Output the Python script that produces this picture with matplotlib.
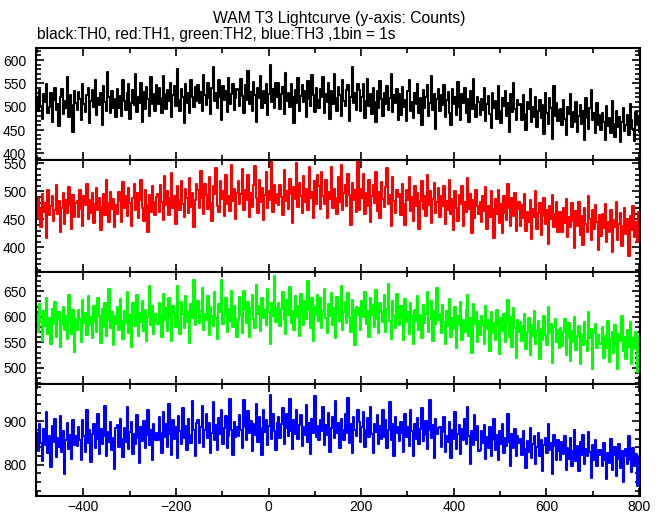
import numpy as np
import matplotlib
matplotlib.use("Agg")
from matplotlib import pyplot as plt
from matplotlib.ticker import MultipleLocator

plt.rcParams["font.family"] = ["Liberation Sans", "DejaVu Sans"]

t_start, t_bin = -500, 3

th0 = [518, 491, 536, 502, 474, 527, 511, 549, 486, 499, 530, 468, 515, 541, 493, 507, 458, 522, 539, 484, 512, 497, 563, 479, 526, 503, 445, 533, 508,
       494, 531, 517, 472, 548, 505, 488, 526, 541, 466, 513, 537, 499, 557, 483, 519, 503, 529, 461, 544, 510, 491, 575, 521, 486, 534, 498, 516, 479,
       539, 497, 524, 481, 558, 512, 493, 529, 548, 474, 508, 535, 503, 571, 488, 521, 509, 552, 467, 531, 496, 543, 517, 480, 563, 506, 527, 490, 546,
       505, 541, 519, 486, 565, 528, 496, 537, 512, 552, 479, 526, 545, 501, 580, 515, 491, 538, 521, 466, 549, 508, 530, 487, 558, 520, 499, 543, 513,
       546, 509, 532, 492, 569, 525, 503, 551, 518, 484, 540, 585, 512, 529, 497, 557, 521, 472, 544, 515, 533, 488, 562, 506, 527, 549, 494, 518, 538,
       536, 501, 560, 523, 487, 546, 514, 577, 506, 531, 492, 554, 525, 468, 541, 518, 566, 497, 533, 509, 548, 482, 527, 590, 511, 539, 498, 552, 520,
       551, 495, 528, 543, 484, 572, 513, 530, 500, 549, 521, 465, 537, 508, 562, 490, 524, 546, 511, 534, 479, 556, 517, 502, 568, 526, 489, 541, 515,
       497, 539, 520, 563, 486, 528, 511, 551, 474, 534, 505, 570, 518, 492, 543, 526, 481, 557, 513, 501, 536, 547, 469, 522, 585, 509, 530, 494, 548,
       535, 490, 521, 549, 476, 513, 560, 502, 527, 485, 541, 511, 467, 533, 497, 555, 516, 481, 529, 505, 544, 493, 519, 571, 488, 526, 508, 538, 472,
       527, 483, 542, 500, 515, 469, 533, 558, 491, 511, 476, 530, 505, 549, 487, 518, 462, 537, 497, 522, 546, 480, 509, 566, 494, 528, 453, 516, 539,
       492, 525, 503, 547, 478, 514, 531, 487, 461, 538, 506, 520, 482, 553, 499, 472, 527, 509, 541, 486, 517, 467, 534, 495, 560, 503, 479, 522, 511,
       482, 516, 494, 541, 470, 507, 523, 485, 455, 530, 498, 512, 474, 545, 491, 466, 519, 501, 534, 480, 509, 447, 527, 488, 552, 496, 471, 515, 503,
       507, 472, 526, 484, 450, 511, 495, 538, 468, 500, 479, 521, 457, 492, 515, 475, 503, 441, 530, 486, 463, 519, 497, 432, 545, 481, 509, 470, 494,
       496, 461, 515, 473, 439, 500, 484, 527, 457, 489, 468, 510, 446, 481, 504, 464, 492, 429, 519, 475, 453, 498, 536, 471, 487, 443, 508, 462, 482,
       450, 487, 468, 429, 501, 459, 476, 443, 513, 464, 435, 490, 456, 479, 424, 468, 497, 448, 461, 483, 440, 506, 471, 452, 427, 489, 463, 478, 445]

th1 = [452, 489, 471, 436, 495, 463, 480, 417, 502, 458, 474, 491, 447, 466, 512, 459, 483, 428, 470, 497, 441, 485, 462, 508, 476, 433, 493, 455, 479,
       483, 455, 503, 468, 439, 492, 476, 514, 451, 485, 462, 498, 443, 478, 507, 466, 489, 431, 472, 495, 458, 521, 480, 446, 499, 469, 487, 437, 475,
       460, 499, 483, 445, 517, 471, 492, 456, 506, 479, 438, 488, 513, 467, 497, 452, 484, 521, 470, 447, 502, 476, 428, 494, 463, 510, 481, 458, 490,
       496, 463, 512, 482, 449, 527, 475, 501, 458, 489, 533, 470, 492, 441, 509, 484, 466, 518, 477, 454, 505, 488, 461, 524, 472, 497, 436, 485, 513,
       502, 471, 536, 488, 459, 514, 493, 468, 526, 480, 447, 509, 495, 541, 474, 463, 519, 486, 500, 456, 530, 478, 492, 465, 547, 483, 505, 451, 497,
       518, 477, 495, 540, 466, 503, 484, 529, 455, 497, 472, 511, 546, 488, 462, 520, 481, 506, 449, 493, 534, 470, 501, 485, 557, 463, 512, 479, 496,
       475, 512, 490, 458, 538, 483, 501, 469, 523, 496, 444, 508, 487, 551, 473, 515, 492, 461, 527, 482, 505, 466, 543, 489, 499, 452, 518, 477, 530,
       509, 468, 534, 491, 477, 520, 452, 499, 486, 543, 470, 504, 489, 459, 525, 481, 548, 466, 497, 512, 474, 531, 493, 440, 515, 484, 502, 463, 555,
       467, 505, 488, 531, 459, 497, 474, 520, 446, 492, 512, 480, 535, 465, 499, 453, 517, 486, 472, 508, 541, 478, 494, 438, 526, 483, 461, 503, 490,
       496, 458, 513, 477, 440, 502, 485, 526, 465, 490, 448, 509, 474, 497, 433, 483, 518, 469, 492, 456, 530, 476, 501, 443, 487, 515, 462, 481, 506,
       455, 492, 474, 509, 441, 483, 466, 520, 459, 487, 432, 501, 470, 448, 493, 477, 510, 439, 481, 463, 524, 468, 496, 425, 485, 452, 503, 474, 460,
       482, 446, 491, 465, 508, 433, 474, 455, 500, 469, 417, 486, 460, 503, 444, 477, 426, 492, 462, 449, 514, 471, 438, 488, 456, 497, 430, 468, 481,
       438, 476, 453, 495, 429, 464, 446, 485, 415, 468, 454, 500, 433, 461, 479, 422, 456, 488, 442, 467, 407, 474, 450, 493, 436, 459, 481, 427, 463,
       463, 427, 471, 444, 486, 418, 455, 436, 479, 447, 399, 465, 439, 482, 423, 457, 405, 470, 441, 428, 492, 451, 414, 466, 433, 475, 446, 396, 458,
       421, 459, 434, 477, 410, 445, 428, 466, 391, 449, 436, 481, 414, 442, 461, 402, 438, 470, 424, 451, 385, 457, 431, 474, 418, 446, 409, 463, 429]

th2 = [605, 571, 624, 590, 553, 612, 582, 637, 566, 598, 547, 615, 586, 629, 560, 594, 609, 541, 583, 620, 575, 601, 556, 642, 589, 567, 613, 531, 596,
       574, 613, 596, 551, 632, 588, 607, 565, 641, 583, 599, 558, 622, 590, 571, 636, 602, 548, 615, 580, 627, 563, 594, 655, 578, 610, 545, 601, 586,
       619, 575, 634, 592, 557, 611, 588, 648, 569, 603, 541, 626, 597, 582, 643, 563, 608, 590, 631, 572, 614, 553, 599, 660, 584, 622, 567, 605, 589,
       586, 627, 603, 561, 645, 594, 618, 572, 637, 599, 553, 621, 608, 580, 660, 591, 566, 629, 605, 578, 641, 589, 612, 548, 625, 597, 672, 583, 610,
       631, 588, 612, 657, 574, 606, 593, 640, 565, 619, 601, 582, 648, 597, 556, 625, 610, 671, 586, 603, 636, 571, 615, 592, 650, 579, 621, 598, 561,
       592, 638, 604, 569, 651, 613, 587, 629, 560, 617, 642, 595, 578, 663, 605, 621, 572, 636, 598, 614, 583, 655, 609, 547, 626, 601, 680, 590, 618,
       627, 581, 615, 649, 594, 566, 632, 603, 658, 588, 611, 575, 640, 599, 622, 562, 645, 607, 583, 630, 596, 669, 613, 578, 637, 552, 619, 604, 642,
       591, 636, 578, 612, 655, 597, 568, 624, 602, 646, 583, 617, 559, 639, 606, 592, 661, 575, 610, 628, 587, 647, 599, 571, 633, 614, 545, 620, 603,
       618, 575, 630, 599, 648, 586, 612, 561, 637, 604, 623, 580, 653, 595, 568, 626, 609, 589, 642, 571, 615, 664, 592, 556, 631, 601, 578, 644, 597,
       583, 621, 598, 554, 635, 590, 609, 567, 627, 601, 546, 614, 592, 640, 575, 604, 559, 623, 587, 606, 649, 570, 596, 631, 552, 612, 585, 657, 594,
       606, 568, 623, 589, 547, 612, 581, 635, 560, 598, 576, 619, 539, 602, 584, 628, 555, 593, 571, 614, 643, 563, 597, 530, 625, 586, 609, 551, 592,
       565, 602, 584, 547, 621, 576, 593, 534, 610, 569, 588, 555, 614, 581, 528, 597, 572, 605, 550, 586, 632, 561, 599, 541, 617, 578, 519, 594, 570,
       589, 553, 581, 606, 537, 570, 598, 525, 584, 562, 611, 546, 573, 592, 518, 577, 555, 601, 564, 544, 620, 568, 586, 509, 579, 596, 551, 574, 539,
       578, 542, 570, 595, 526, 559, 587, 514, 573, 551, 600, 535, 562, 581, 507, 566, 544, 590, 553, 533, 609, 558, 576, 497, 569, 585, 538, 564, 548,
       547, 579, 520, 563, 538, 592, 511, 556, 571, 529, 584, 545, 498, 566, 552, 601, 533, 560, 518, 575, 541, 589, 507, 558, 536, 570, 492, 549, 563]

th3 = [872, 831, 894, 850, 809, 883, 846, 921, 826, 867, 795, 889, 852, 905, 818, 861, 840, 913, 829, 877, 778, 858, 896, 837, 869, 814, 902, 845, 866,
       843, 888, 857, 812, 903, 866, 830, 925, 851, 879, 806, 871, 894, 838, 859, 917, 824, 882, 848, 867, 935, 819, 876, 852, 898, 833, 861, 790, 884,
       891, 842, 905, 860, 817, 884, 853, 932, 836, 876, 899, 825, 870, 848, 914, 861, 803, 887, 855, 901, 839, 868, 926, 845, 880, 812, 893, 857, 874,
       856, 909, 874, 828, 921, 865, 893, 840, 940, 871, 822, 902, 859, 886, 815, 912, 877, 848, 930, 862, 889, 834, 905, 868, 851, 947, 880, 819, 896,
       903, 851, 888, 935, 842, 879, 916, 861, 897, 826, 874, 945, 858, 891, 833, 908, 870, 925, 848, 884, 912, 839, 867, 952, 881, 823, 899, 863, 886,
       866, 915, 879, 838, 948, 887, 856, 924, 872, 901, 831, 895, 868, 939, 853, 910, 884, 822, 927, 875, 903, 846, 889, 961, 860, 918, 877, 835, 897,
       909, 861, 893, 930, 847, 884, 918, 866, 951, 878, 836, 903, 871, 925, 859, 892, 914, 843, 888, 869, 937, 852, 897, 825, 906, 874, 958, 863, 890,
       856, 902, 877, 934, 845, 891, 868, 920, 830, 885, 911, 862, 946, 873, 897, 839, 906, 880, 858, 917, 872, 953, 849, 894, 828, 909, 881, 866, 925,
       898, 852, 886, 921, 840, 879, 907, 863, 932, 870, 826, 893, 875, 914, 848, 889, 860, 927, 865, 902, 838, 881, 944, 856, 895, 819, 910, 872, 887,
       855, 898, 872, 829, 916, 864, 887, 843, 925, 877, 820, 893, 860, 908, 847, 882, 931, 854, 869, 901, 836, 879, 950, 862, 891, 815, 905, 871, 884,
       886, 842, 875, 911, 829, 867, 853, 898, 815, 880, 860, 922, 837, 871, 892, 824, 883, 856, 905, 848, 934, 866, 801, 877, 845, 914, 858, 889, 832,
       835, 877, 850, 892, 814, 864, 839, 886, 821, 857, 905, 833, 869, 810, 878, 847, 893, 826, 861, 844, 917, 852, 798, 871, 838, 883, 819, 866, 849,
       859, 822, 877, 836, 793, 854, 830, 885, 815, 848, 867, 801, 840, 873, 819, 857, 786, 845, 862, 827, 894, 834, 851, 778, 869, 843, 810, 856, 832,
       810, 852, 825, 867, 789, 839, 814, 861, 796, 832, 880, 808, 844, 785, 853, 822, 868, 801, 836, 819, 875, 829, 770, 846, 812, 858, 797, 834, 823,
       833, 796, 851, 810, 767, 828, 804, 859, 789, 822, 841, 775, 814, 847, 793, 831, 760, 819, 836, 801, 866, 812, 784, 839, 798, 825, 751, 818, 808]

series = [th0, th1, th2, th3]
colors = ["black", "red", "#00ff00", "blue"]
ylims = [(387, 627), (357, 557), (469, 688), (728, 986)]
ymajor = [50, 50, 50, 100]
yminor = [10, 10, 10, 20]

fig = plt.figure(figsize=(6.65, 5.15), dpi=100)

W, H = 665.0, 515.0
left, right = 36, 640
tops = [47.5, 159.5, 271.75, 384.0]
h = 112.0

for i in range(4):
    ax = fig.add_axes([left / W, 1 - (tops[i] + h) / H, (right - left) / W, h / H])
    t = t_start + t_bin * np.arange(len(series[i]))
    ax.plot(t, series[i], color=colors[i], lw=1.5, drawstyle="steps-mid")
    ax.set_xlim(-502, 802)
    ax.set_ylim(*ylims[i])
    ax.xaxis.set_major_locator(MultipleLocator(200))
    ax.xaxis.set_minor_locator(MultipleLocator(100))
    ax.yaxis.set_major_locator(MultipleLocator(ymajor[i]))
    ax.yaxis.set_minor_locator(MultipleLocator(yminor[i]))
    ax.tick_params(which="both", direction="in", top=True, right=True, width=1.2, labelsize=10)
    ax.tick_params(which="major", length=6)
    ax.tick_params(which="minor", length=3.5)
    ax.tick_params(axis="y", pad=7)
    ax.tick_params(axis="x", pad=3)
    for s in ax.spines.values():
        s.set_linewidth(1.5)
    if i < 3:
        ax.tick_params(labelbottom=False)

fig.text(0.51, 1 - 18 / H, "WAM T3 Lightcurve (y-axis: Counts)", ha="center", va="center", fontsize=11.3)
fig.text(left / W + 0.002, 1 - 35 / H, "black:TH0, red:TH1, green:TH2, blue:TH3 ,1bin = 1s",
         ha="left", va="center", fontsize=11.2)

plt.savefig("out.png", dpi=100)
